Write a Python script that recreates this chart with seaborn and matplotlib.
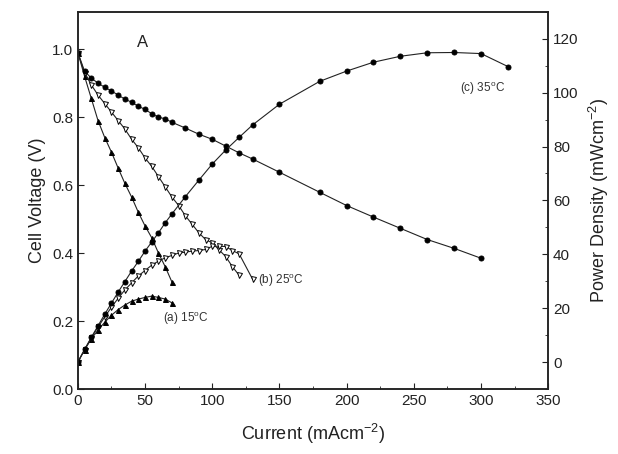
import matplotlib
matplotlib.use('Agg')
import matplotlib.pyplot as plt
from matplotlib.ticker import MultipleLocator
import seaborn as sns

# 15 C (filled triangles)
a_i = [0, 5, 10, 15, 20, 25, 30, 35, 40, 45, 50, 55, 60, 65, 70]
a_v = [0.99, 0.92, 0.855, 0.79, 0.74, 0.697, 0.65, 0.605, 0.565, 0.52, 0.48, 0.445, 0.40, 0.36, 0.315]
a_p = [0, 4.6, 8.6, 11.9, 14.8, 17.4, 19.5, 21.2, 22.6, 23.4, 24.0, 24.5, 24.0, 23.4, 22.0]

# 25 C (open triangles)
b_i = [0, 5, 10, 15, 20, 25, 30, 35, 40, 45, 50, 55, 60, 65, 70, 75, 80, 85, 90, 95, 100, 105, 110, 115, 120]
b_v = [0.99, 0.93, 0.895, 0.865, 0.84, 0.815, 0.79, 0.765, 0.735, 0.71, 0.68, 0.655, 0.625, 0.595,
       0.565, 0.54, 0.51, 0.485, 0.46, 0.44, 0.43, 0.41, 0.39, 0.36, 0.335]
b_pi = b_i + [130]
b_p = [0, 4.6, 9.0, 13.0, 16.8, 20.4, 23.7, 26.8, 29.4, 32.0, 34.0, 36.0, 37.5, 38.7, 39.6, 40.5,
       40.8, 41.2, 41.4, 41.8, 43.0, 43.0, 42.9, 41.4, 40.2, 30.8]

# 35 C (filled circles)
c_i = [0, 5, 10, 15, 20, 25, 30, 35, 40, 45, 50, 55, 60, 65, 70, 80, 90, 100, 110, 120, 130,
       150, 180, 200, 220, 240, 260, 280, 300]
c_v = [0.99, 0.935, 0.915, 0.90, 0.888, 0.877, 0.865, 0.853, 0.844, 0.832, 0.823, 0.81, 0.80, 0.795,
       0.785, 0.768, 0.75, 0.735, 0.715, 0.695, 0.677, 0.638, 0.579, 0.54, 0.506, 0.473, 0.44, 0.414, 0.385]
c_pi = c_i + [320]
c_p = [0, 4.7, 9.2, 13.5, 17.8, 21.9, 26.0, 29.9, 33.8, 37.4, 41.2, 44.6, 48.0, 51.7, 55.0, 61.4,
       67.5, 73.5, 78.7, 83.4, 88.0, 95.7, 104.2, 108.0, 111.3, 113.5, 114.8, 114.9, 114.5, 109.7]

sns.set_style('ticks')
plt.rcParams['font.family'] = ['Liberation Sans', 'DejaVu Sans']
plt.rcParams['mathtext.fontset'] = 'custom'
plt.rcParams['mathtext.rm'] = 'Liberation Sans'
plt.rcParams['mathtext.it'] = 'Liberation Sans'

fig, ax = plt.subplots(figsize=(6.18, 4.54), dpi=100)
fig.subplots_adjust(left=0.126, right=0.887, bottom=0.143, top=0.974)
ax2 = ax.twinx()

line = dict(color='#222222', linewidth=0.8, markersize=3.6, markeredgecolor='black',
            markeredgewidth=0.7, legend=False)

sns.lineplot(x=a_i, y=a_v, ax=ax, marker='^', markerfacecolor='black', **line)
sns.lineplot(x=b_i, y=b_v, ax=ax, marker='v', markerfacecolor='white', **line)
sns.lineplot(x=c_i, y=c_v, ax=ax, marker='o', markerfacecolor='black', **line)

sns.lineplot(x=a_i, y=a_p, ax=ax2, marker='^', markerfacecolor='black', **line)
sns.lineplot(x=b_pi, y=b_p, ax=ax2, marker='v', markerfacecolor='white', **line)
sns.lineplot(x=c_pi, y=c_p, ax=ax2, marker='o', markerfacecolor='black', **line)

ax.set_xlim(0, 350)
ax.set_ylim(0, 1.11)
ax2.set_ylim(-10, 130)

ax.xaxis.set_major_locator(MultipleLocator(50))
ax.xaxis.set_minor_locator(MultipleLocator(25))
ax.yaxis.set_major_locator(MultipleLocator(0.2))
ax2.yaxis.set_major_locator(MultipleLocator(20))
ax2.yaxis.set_minor_locator(MultipleLocator(10))
ax.yaxis.set_major_formatter(matplotlib.ticker.FormatStrFormatter('%.1f'))

for a in (ax, ax2):
    a.tick_params(direction='in', which='both', labelsize=11, colors='#222222')
    a.tick_params(which='major', length=4)
    a.tick_params(which='minor', length=2.5)
    for s in a.spines.values():
        s.set_linewidth(1.1)
        s.set_color('#222222')
        s.set_visible(True)

ax.set_xlabel('Current (mAcm$^{-2}$)', fontsize=13, color='#222222', labelpad=10)
ax.set_ylabel('Cell Voltage (V)', fontsize=13, color='#222222')
ax2.set_ylabel('Power Density (mWcm$^{-2}$)', fontsize=13, color='#222222', labelpad=6)

ax.text(48, 1.02, 'A', fontsize=12, ha='center', va='center', color='#222222')
ax.text(301, 0.885, '(c) 35$^{\\rm o}$C', fontsize=8.5, ha='center', va='center', color='#333333')
ax.text(134, 0.32, '(b) 25$^{\\rm o}$C', fontsize=8.5, ha='left', va='center', color='#333333')
ax.text(63, 0.206, '(a) 15$^{\\rm o}$C', fontsize=8.5, ha='left', va='center', color='#333333')

fig.savefig('out.png', dpi=100)
